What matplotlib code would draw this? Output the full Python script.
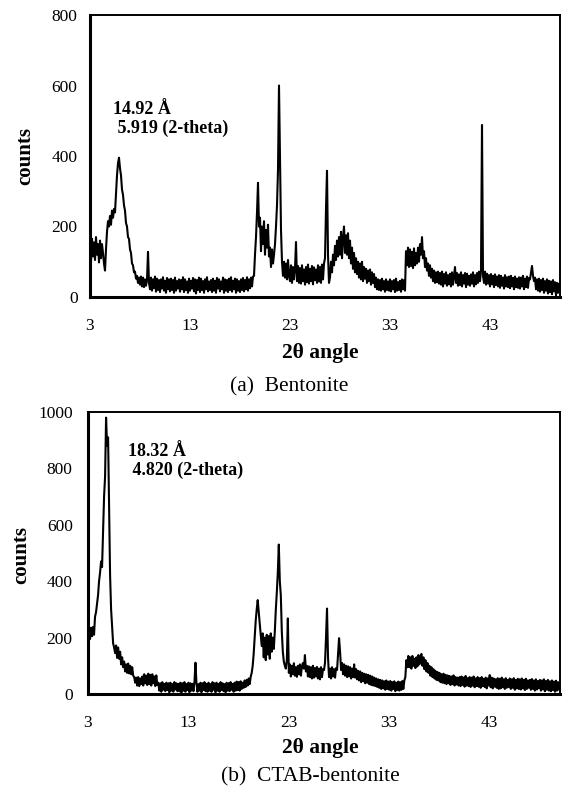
import numpy as np
import matplotlib
matplotlib.use("Agg")
import matplotlib.pyplot as plt

plt.rcParams['font.family'] = ['Liberation Serif', 'DejaVu Serif']

# 2-theta grid (degrees), step 0.1 from 3.0 to 50.0
theta_start = 3.0
theta_step = 0.1

# (a) Bentonite counts, one row per degree (3.0-3.9, 4.0-4.9, ...)
bentonite_counts = [
    140, 100, 165, 115, 155, 105, 170, 120, 150, 98,
    160, 110, 150, 125, 95, 75, 135, 185, 215, 200,
    230, 205, 245, 225, 250, 240, 295, 345, 380, 395,
    365, 345, 305, 290, 260, 245, 210, 200, 170, 165,
    135, 125, 95, 90, 70, 72, 52, 60, 40, 55,
    35, 58, 30, 55, 28, 50, 32, 48, 128, 40,
    22, 55, 18, 50, 25, 58, 15, 52, 20, 48,
    14, 50, 24, 56, 18, 46, 12, 54, 22, 50,
    16, 52, 20, 48, 12, 55, 18, 45, 24, 50,
    15, 48, 22, 56, 14, 50, 20, 44, 12, 52,
    18, 46, 24, 54, 16, 50, 10, 48, 20, 55,
    14, 52, 20, 45, 12, 50, 22, 56, 16, 44,
    20, 48, 14, 52, 18, 46, 12, 54, 24, 50,
    16, 44, 22, 55, 12, 50, 18, 48, 14, 52,
    20, 56, 15, 46, 22, 52, 12, 50, 18, 45,
    14, 50, 20, 54, 16, 48, 22, 56, 18, 50,
    25, 55, 30, 58, 60, 120, 170, 240, 324, 200,
    225, 130, 200, 150, 215, 120, 190, 140, 205, 115,
    140, 85, 135, 95, 120, 150, 200, 260, 360, 600,
    400, 190, 100, 60, 100, 55, 95, 50, 105, 60,
    45, 90, 40, 85, 50, 80, 156, 45, 88, 40,
    82, 38, 90, 45, 78, 35, 85, 42, 92, 38,
    80, 45, 88, 36, 84, 48, 78, 40, 90, 44,
    85, 40, 92, 50, 95, 110, 250, 358, 120, 40,
    55, 100, 70, 120, 90, 145, 105, 160, 115, 170,
    120, 185, 110, 170, 200, 125, 175, 120, 181, 110,
    160, 95, 140, 80, 125, 70, 110, 65, 100, 55,
    95, 50, 100, 45, 85, 52, 80, 40, 75, 45,
    78, 35, 70, 40, 65, 28, 55, 22, 50, 20,
    48, 18, 52, 22, 45, 15, 50, 20, 44, 18,
    50, 16, 45, 22, 48, 14, 52, 18, 42, 20,
    46, 15, 50, 22, 48, 18, 130, 90, 140, 85,
    135, 88, 128, 82, 138, 90, 125, 95, 140, 100,
    150, 120, 170, 110, 130, 85, 110, 75, 95, 60,
    90, 55, 80, 45, 75, 40, 70, 42, 72, 38,
    68, 35, 72, 30, 65, 38, 70, 32, 62, 36,
    66, 30, 70, 35, 60, 85, 40, 68, 32, 64,
    34, 70, 30, 62, 38, 68, 28, 66, 35, 60,
    32, 64, 38, 70, 30, 62, 36, 68, 40, 72,
    45, 75, 488, 60, 40, 72, 35, 66, 38, 62,
    30, 65, 36, 60, 28, 64, 34, 58, 30, 62,
    26, 60, 32, 55, 24, 62, 30, 56, 28, 58,
    25, 60, 30, 54, 22, 58, 28, 52, 26, 56,
    24, 55, 30, 60, 22, 52, 28, 58, 26, 54,
    50, 70, 88, 60, 45, 55, 22, 50, 18, 52,
    15, 48, 20, 52, 12, 45, 18, 50, 10, 46,
    14, 44, 8, 48, 16, 42, 5, 40, 12, 38,
    20,
]

# (b) CTAB-bentonite counts, one row per degree
ctab_counts = [
    150, 215, 195, 235, 205, 238, 210, 274, 290, 320,
    350, 400, 430, 470, 450, 580, 700, 770, 980, 880,
    910, 660, 420, 300, 239, 180, 165, 145, 172, 128,
    165, 125, 150, 105, 130, 95, 115, 80, 105, 75,
    108, 73, 100, 70, 95, 65, 60, 40, 58, 30,
    60, 28, 55, 35, 62, 30, 70, 38, 65, 32,
    72, 35, 68, 30, 70, 38, 62, 28, 66, 32,
    40, 12, 38, 8, 42, 15, 36, 10, 40, 14,
    38, 6, 40, 12, 35, 8, 42, 16, 38, 10,
    36, 10, 40, 5, 38, 12, 42, 8, 35, 14,
    40, 6, 38, 12, 36, 10, 42, 111, 38, 8,
    35, 12, 40, 6, 38, 14, 42, 10, 36, 8,
    40, 12, 35, 8, 42, 15, 38, 6, 40, 12,
    36, 8, 42, 14, 38, 10, 35, 6, 40, 12,
    38, 10, 42, 15, 36, 8, 40, 12, 44, 14,
    42, 12, 45, 18, 40, 22, 48, 25, 50, 30,
    55, 35, 61, 75, 100, 144, 200, 260, 300, 333,
    290, 250, 210, 170, 215, 130, 200, 120, 210, 140,
    205, 125, 215, 150, 200, 160, 220, 298, 360, 430,
    530, 400, 350, 220, 150, 115, 100, 90, 120, 268,
    75, 105, 62, 100, 70, 109, 65, 95, 61, 100,
    70, 105, 65, 98, 110, 90, 138, 80, 100, 62,
    98, 60, 95, 55, 100, 58, 92, 62, 96, 55,
    90, 52, 95, 60, 88, 85, 110, 200, 303, 130,
    60, 90, 55, 95, 62, 88, 58, 92, 85, 140,
    198, 150, 85, 110, 70, 105, 65, 100, 60, 98,
    62, 95, 55, 90, 60, 105, 58, 88, 52, 82,
    48, 80, 42, 75, 45, 72, 38, 70, 40, 68,
    35, 65, 32, 62, 30, 58, 28, 55, 25, 52,
    22, 50, 18, 48, 20, 45, 15, 48, 18, 44,
    15, 46, 12, 42, 18, 45, 10, 40, 14, 44,
    12, 42, 15, 46, 18, 48, 60, 120, 95, 135,
    95, 130, 90, 135, 100, 125, 92, 130, 98, 138,
    105, 128, 142, 100, 130, 88, 120, 80, 110, 75,
    100, 65, 95, 60, 88, 55, 82, 50, 78, 48,
    75, 42, 70, 40, 72, 38, 68, 35, 66, 38,
    64, 32, 62, 35, 66, 30, 60, 34, 58, 30,
    60, 28, 62, 32, 58, 26, 64, 30, 56, 28,
    60, 25, 58, 30, 62, 24, 55, 28, 60, 26,
    56, 22, 60, 28, 54, 25, 58, 20, 55, 30,
    67, 24, 58, 20, 55, 26, 52, 22, 56, 18,
    54, 20, 58, 24, 52, 18, 56, 22, 50, 25,
    55, 18, 52, 22, 56, 15, 50, 20, 54, 18,
    52, 16, 55, 20, 50, 14, 54, 18, 48, 22,
    50, 15, 53, 18, 48, 12, 52, 16, 46, 20,
    50, 12, 48, 16, 52, 10, 46, 15, 50, 12,
    45, 10, 48, 14, 44, 8, 47, 12, 42, 15,
    40,
]

x_ticks = [3, 13, 23, 33, 43]
y_ticks_a = [0, 200, 400, 600, 800]
y_ticks_b = [0, 200, 400, 600, 800, 1000]

annot_a = "14.92 Å\n 5.919 (2-theta)"
annot_b = "18.32 Å\n 4.820 (2-theta)"

W, H = 565, 794
fig = plt.figure(figsize=(W / 100, H / 100), dpi=100)


def px_axes(l, t, r, b):
    return fig.add_axes([l / W, 1 - b / H, (r - l) / W, (b - t) / H])


def style(ax, ymax, yticks, ypad):
    ax.set_xlim(3, 50)
    ax.set_ylim(0, ymax)
    ax.set_xticks(x_ticks)
    ax.set_yticks(yticks)
    ax.tick_params(length=0, labelsize=12.5)
    ax.tick_params(axis='x', pad=15)
    ax.tick_params(axis='y', pad=ypad)
    for s in ['left', 'bottom']:
        ax.spines[s].set_linewidth(2.2)
    for s in ['top', 'right']:
        ax.spines[s].set_linewidth(1.4)


def series(counts):
    x = theta_start + theta_step * np.arange(len(counts))
    return x, np.array(counts, dtype=float)


# Panel (a)
ax1 = px_axes(90, 15, 560, 297)
xa, ya = series(bentonite_counts)
ax1.plot(xa, ya, color='black', lw=1.5)
style(ax1, 800, y_ticks_a, 9)
ax1.text(5.3, 505, annot_a, fontsize=13, fontweight='bold',
         va='center', ha='left', linespacing=1.1)

# Panel (b)
ax2 = px_axes(88, 412, 560, 694)
xb, yb = series(ctab_counts)
ax2.plot(xb, yb, color='black', lw=1.5)
style(ax2, 1000, y_ticks_b, 11)
ax2.text(7.0, 826, annot_b, fontsize=13, fontweight='bold',
         va='center', ha='left', linespacing=1.1)

fig.text(25 / W, 1 - 156 / H, "counts", fontsize=15, fontweight='bold',
         rotation=90, ha='center', va='center')
fig.text(21 / W, 1 - 555 / H, "counts", fontsize=15, fontweight='bold',
         rotation=90, ha='center', va='center')
fig.text(320 / W, 1 - 353 / H, "2θ angle", fontsize=15.5, fontweight='bold',
         ha='center', va='center')
fig.text(289 / W, 1 - 387 / H, "(a)  Bentonite", fontsize=15.5,
         ha='center', va='center')
fig.text(320 / W, 1 - 748 / H, "2θ angle", fontsize=15.5, fontweight='bold',
         ha='center', va='center')
fig.text(310 / W, 1 - 777 / H, "(b)  CTAB-bentonite", fontsize=15.5,
         ha='center', va='center')

fig.savefig("out.png", dpi=100)
